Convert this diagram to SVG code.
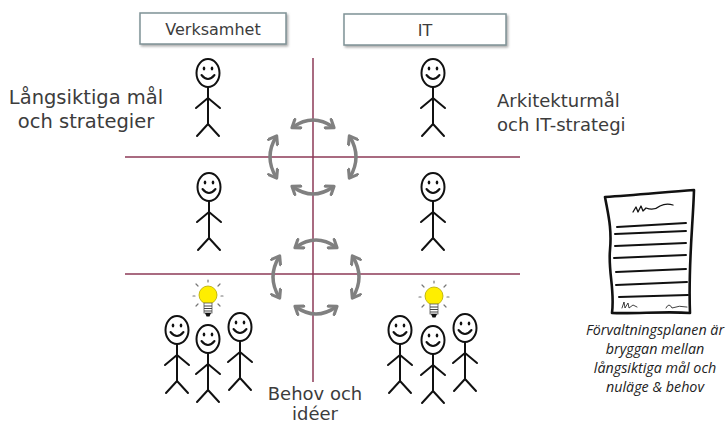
<svg xmlns="http://www.w3.org/2000/svg" width="728" height="425" viewBox="0 0 728 425">
  <style>
    .hand { font-family: "DejaVu Sans", "Liberation Sans", sans-serif; fill: #3c3c3c; }
    .note { font-family: "Open Sans", "Noto Sans", sans-serif; font-style: italic; font-size: 14.3px; fill: #222; }
    .box { fill: #fff; stroke: #7f9296; stroke-width: 1.5; }
    .grid { stroke: #8c3a57; stroke-width: 1.5; fill: none; }
    .cyc { fill: none; stroke: #808080; stroke-width: 3.5; stroke-linecap: round; }
    .ink { fill: none; stroke: #111; stroke-linecap: round; stroke-linejoin: round; }
  </style>
  <defs>
    <filter id="shadow" x="-10%" y="-30%" width="120%" height="160%">
      <feDropShadow dx="1.5" dy="1.8" stdDeviation="1" flood-color="#777" flood-opacity="0.6"/>
    </filter>
    <marker id="chev" viewBox="0 0 10 10" markerUnits="userSpaceOnUse" markerWidth="13" markerHeight="13" refX="6" refY="5" orient="auto-start-reverse">
      <path d="M1.5 1 L7 5 L1.5 9" fill="none" stroke="#808080" stroke-width="2.4" stroke-linecap="round" stroke-linejoin="round"/>
    </marker>
    <!-- stick figure, origin at head centre -->
    <g id="stick" class="ink" stroke-width="2">
      <ellipse cx="0" cy="0" rx="11.5" ry="14"/>
      <ellipse cx="-4" cy="-4.5" rx="1.3" ry="2.1" fill="#111" stroke="none"/>
      <ellipse cx="4" cy="-4.5" rx="1.3" ry="2.1" fill="#111" stroke="none"/>
      <path d="M-6.5 2 Q0 10 6.5 2"/>
      <path d="M0 14 V51 M-12 35 L0 25 L12 35 M-11 63 L0 51 L11 63"/>
    </g>
    <!-- light bulb, origin at bulb centre -->
    <g id="bulb">
      <g stroke="#777" stroke-width="1.2" stroke-linecap="round">
        <path d="M0 -13 V-15 M-10 -9 L-12 -11 M10 -9 L12 -11 M-13 1 H-15 M13 1 H15 M-10 9 L-12 11 M10 9 L12 11"/>
      </g>
      <circle cx="0" cy="0" r="9" fill="#ffee00" stroke="#b5a800" stroke-width="0.8"/>
      <rect x="-4" y="8" width="8" height="10" fill="#fff" stroke="#555" stroke-width="0.8"/>
      <path d="M-4 11 H4 M-4 13.5 H4 M-4 16 H4" stroke="#444" stroke-width="1.2"/>
      <path d="M-3 18 H3 L1.5 21.5 H-1.5 Z" fill="#111"/>
    </g>
    <!-- four curved arrows forming a cycle, centred on (313,157) -->
    <g id="cycle" class="cyc">
      <path d="M293 127 Q313 113 333 127" marker-start="url(#chev)" marker-end="url(#chev)"/>
      <path d="M293 187 Q313 201 333 187" marker-start="url(#chev)" marker-end="url(#chev)"/>
      <path d="M276 137 Q264 157 276 177" marker-start="url(#chev)" marker-end="url(#chev)"/>
      <path d="M350 137 Q362 157 350 177" marker-start="url(#chev)" marker-end="url(#chev)"/>
    </g>
  </defs>

  <rect width="728" height="425" fill="#fff"/>

  <!-- quadrant grid -->
  <g id="grid">
    <line class="grid" x1="313" y1="58" x2="313" y2="382"/>
    <line class="grid" x1="125" y1="157" x2="520" y2="157"/>
    <line class="grid" x1="125" y1="274" x2="520" y2="274"/>
  </g>

  <!-- connectors: cycle arrows between quadrants -->
  <g id="connectors">
    <use href="#cycle"/>
    <use href="#cycle" transform="translate(3 120)"/>
  </g>

  <!-- column headers -->
  <g id="hdr-verksamhet">
    <rect class="box" x="140" y="13" width="146" height="31" filter="url(#shadow)"/>
    <text class="hand" x="213" y="35" font-size="16" text-anchor="middle">Verksamhet</text>
  </g>
  <g id="hdr-it">
    <rect class="box" x="344" y="14" width="162" height="31" filter="url(#shadow)"/>
    <text class="hand" x="425" y="36" font-size="16" text-anchor="middle">IT</text>
  </g>

  <!-- row labels -->
  <g id="lbl-lang">
    <text class="hand" x="86" y="104" font-size="19.5" text-anchor="middle">Långsiktiga mål</text>
    <text class="hand" x="86" y="128" font-size="19.5" text-anchor="middle">och strategier</text>
  </g>
  <g id="lbl-arkitektur">
    <text class="hand" x="497" y="107" font-size="18">Arkitekturmål</text>
    <text class="hand" x="497" y="131" font-size="18">och IT-strategi</text>
  </g>
  <g id="lbl-behov">
    <text class="hand" x="315" y="400" font-size="18" text-anchor="middle">Behov och</text>
    <text class="hand" x="315" y="420" font-size="18" text-anchor="middle">idéer</text>
  </g>

  <!-- people -->
  <g id="person-verksamhet-top"><use href="#stick" x="208" y="73"/></g>
  <g id="person-it-top"><use href="#stick" x="433" y="73"/></g>
  <g id="person-verksamhet-mid"><use href="#stick" x="209" y="187"/></g>
  <g id="person-it-mid"><use href="#stick" x="433" y="187"/></g>

  <g id="group-verksamhet">
    <use href="#bulb" x="208" y="295"/>
    <use href="#stick" x="177" y="330"/>
    <use href="#stick" x="240" y="327"/>
    <use href="#stick" x="208" y="339"/>
  </g>
  <g id="group-it">
    <use href="#bulb" x="434" y="296"/>
    <use href="#stick" x="400" y="330"/>
    <use href="#stick" x="465" y="328"/>
    <use href="#stick" x="433" y="340"/>
  </g>

  <!-- management plan document -->
  <g id="plan">
    <g transform="translate(-4 0)">
      <path class="ink" stroke-width="2.6" fill="#fff" d="M609 197 C640 195 670 192 698 190 C697 225 692 265 694 313 C670 311 640 314 616 313 C619 290 612 272 614 250 C616 228 612 214 609 197 Z"/>
      <path class="ink" stroke-width="1.3" d="M637 212 l3 -5 l2 5 l3 -6 l2 5 l3 -3 q8 3 14 -2 q6 -3 13 -1"/>
      <path class="ink" stroke-width="2" d="M621 227 L690 223 M619 234 L690 231 M619 246 L690 243 M618 258 L690 255 M620 272 L690 269 M620 285 L691 282 M623 297 L692 295"/>
      <path class="ink" stroke-width="0.8" stroke="#555" d="M626 308 l2 -6 l1 6 l3 -5 l1 5 l4 -3 l4 2 M670 308 q3 -6 6 0 q7 -3 15 -1"/>
    </g>
    <text class="note" x="655" y="335" text-anchor="middle">Förvaltningsplanen är</text>
    <text class="note" x="655" y="354" text-anchor="middle">bryggan mellan</text>
    <text class="note" x="655" y="373" text-anchor="middle">långsiktiga mål och</text>
    <text class="note" x="655" y="392" text-anchor="middle">nuläge &amp; behov</text>
  </g>
</svg>
